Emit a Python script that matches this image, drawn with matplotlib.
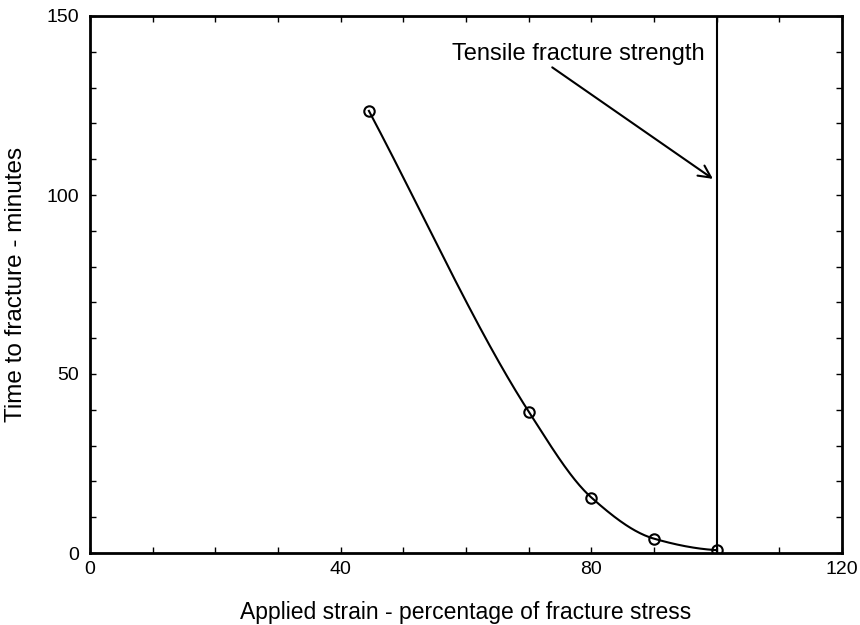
import numpy as np
import matplotlib.pyplot as plt
from matplotlib.ticker import MultipleLocator

plt.rcParams['font.family'] = ['Liberation Sans', 'DejaVu Sans']

# data
strain = [44.5, 70, 80, 90, 100]
t_fracture = [123.5, 39.5, 15.5, 4.0, 0.8]
fracture_x = 100
note_text = "Tensile fracture strength"
note_xy = (99.4, 104.5)
note_text_xy = (57.8, 139.5)


def pchip(x, y, xs):
    # monotone cubic through the points (Fritsch-Carlson)
    x = np.asarray(x, float)
    y = np.asarray(y, float)
    h = np.diff(x)
    d = np.diff(y) / h
    m = np.zeros_like(y)
    for k in range(1, len(x) - 1):
        if d[k - 1] * d[k] > 0:
            w1 = 2 * h[k] + h[k - 1]
            w2 = h[k] + 2 * h[k - 1]
            m[k] = (w1 + w2) / (w1 / d[k - 1] + w2 / d[k])
    m[0] = d[0]
    m[-1] = d[-1] * 0.3
    out = np.empty_like(xs)
    for i, xv in enumerate(xs):
        k = min(np.searchsorted(x, xv, side='right') - 1, len(x) - 2)
        t = (xv - x[k]) / h[k]
        h00 = 2 * t**3 - 3 * t**2 + 1
        h10 = t**3 - 2 * t**2 + t
        h01 = -2 * t**3 + 3 * t**2
        h11 = t**3 - t**2
        out[i] = h00 * y[k] + h10 * h[k] * m[k] + h01 * y[k + 1] + h11 * h[k] * m[k + 1]
    return out


fig = plt.figure(figsize=(8.6, 6.25), dpi=100)
ax = fig.add_axes([0.1047, 0.1152, 0.8744, 0.8592])

xs = np.linspace(strain[0], strain[-1], 300)
ax.plot(xs, pchip(strain, t_fracture, xs), color='black', lw=1.5)
ax.plot(strain, t_fracture, 'o', mfc='none', mec='black', ms=7.5, mew=1.5)

ax.axvline(fracture_x, color='black', lw=1.5)
ax.annotate(note_text, xy=note_xy, xytext=note_text_xy,
            fontsize=17, ha='left', va='center',
            arrowprops=dict(arrowstyle='->', color='black', lw=1.5,
                            shrinkA=0, shrinkB=0, mutation_scale=22,
                            relpos=(0.38, 0)))

ax.set_xlim(0, 120)
ax.set_ylim(0, 150)
ax.set_xticks([0, 40, 80, 120])
ax.set_yticks([0, 50, 100, 150])
ax.xaxis.set_minor_locator(MultipleLocator(10))
ax.yaxis.set_minor_locator(MultipleLocator(10))
ax.tick_params(which='both', direction='in', top=True, right=True,
               length=4, width=1, labelsize=14)
ax.tick_params(axis='x', pad=6)
ax.tick_params(axis='y', pad=8)
for s in ax.spines.values():
    s.set_linewidth(2)

ax.set_xlabel("Applied strain - percentage of fracture stress", fontsize=16.5, labelpad=16)
ax.set_ylabel("Time to fracture - minutes", fontsize=17.5, labelpad=14)

fig.savefig("out.png", dpi=100)
